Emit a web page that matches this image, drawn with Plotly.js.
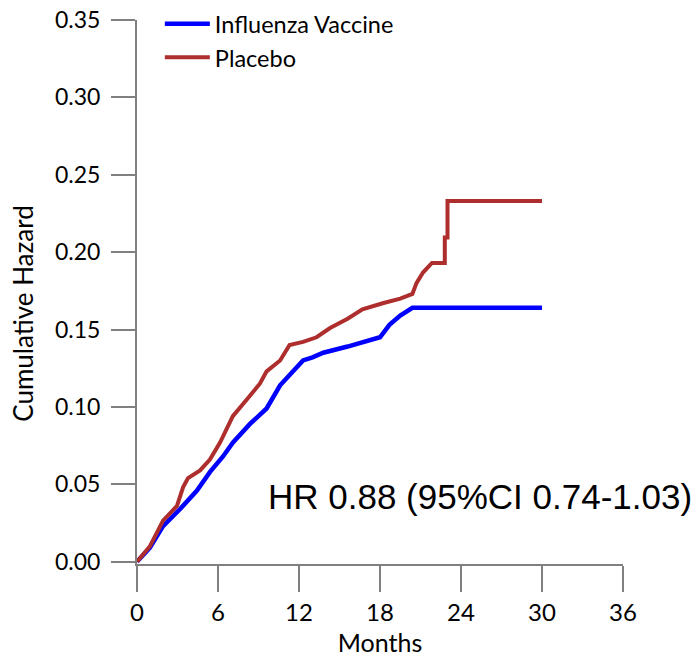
<!DOCTYPE html>
<html>
<head>
<meta charset="utf-8">
<script src="https://cdn.plot.ly/plotly-3.0.1.min.js"></script>
<style>html,body{margin:0;padding:0;background:#fff;}#chart{width:698px;height:660px;}</style>
</head>
<body>
<div id="chart"></div>
<script>
// Data
const monthsVaccine = [0, 0.96, 1.93, 3.19, 4.44, 5.41, 6.37, 7.11, 8.37, 9.6, 10.6, 11.56, 12.3, 13.0, 13.8, 15.6, 16.7, 18.0, 18.7, 19.5, 20.4, 30];
const hazardVaccine = [0, 0.009, 0.023, 0.034, 0.046, 0.058, 0.068, 0.077, 0.089, 0.099, 0.114, 0.123, 0.130, 0.132, 0.135, 0.139, 0.142, 0.145, 0.153, 0.159, 0.164, 0.164];

const monthsPlacebo = [0, 0.96, 1.93, 2.96, 3.41, 3.78, 4.67, 5.4, 6.15, 7.1, 8.15, 9.1, 9.6, 10.6, 11.3, 12.3, 13.3, 14.3, 15.6, 16.7, 18.2, 19.5, 20.4, 20.7, 21.2, 21.85, 22.8, 22.8, 23.0, 23.0, 30];
const hazardPlacebo = [0, 0.010, 0.0265, 0.036, 0.048, 0.054, 0.059, 0.066, 0.077, 0.094, 0.105, 0.115, 0.123, 0.130, 0.140, 0.142, 0.145, 0.151, 0.157, 0.163, 0.167, 0.170, 0.173, 0.180, 0.187, 0.193, 0.193, 0.2095, 0.2095, 0.233, 0.233];

const seriesNames = ["Influenza Vaccine", "Placebo"];
const xTicks = [0, 6, 12, 18, 24, 30, 36];
const yTicks = [0, 0.05, 0.10, 0.15, 0.20, 0.25, 0.30, 0.35];
const xTitle = "Months";
const yTitle = "Cumulative Hazard";
const hrText = "HR 0.88 (95%CI 0.74-1.03)";

const font = "Lato, 'Noto Sans', sans-serif";
const axisGray = "#808080";

const traces = [
  {x: monthsVaccine, y: hazardVaccine, name: seriesNames[0], mode: "lines", legendgroup: "a",
   line: {color: "#0000FF", width: 4.5}},
  {x: monthsPlacebo, y: hazardPlacebo, name: seriesNames[1], mode: "lines", legendgroup: "b",
   line: {color: "#AE2E2E", width: 4}}
];

const layout = {
  width: 698, height: 660,
  margin: {l: 137, r: 75, t: 20, b: 96, autoexpand: false},
  paper_bgcolor: "#fff", plot_bgcolor: "#fff",
  font: {family: font, size: 22, color: "#000"},
  showlegend: true,
  legend: {x: 0.047, xanchor: "left", y: 1.033, yanchor: "top", bgcolor: "rgba(0,0,0,0)",
           font: {family: font, size: 23.5, color: "#000"}, traceorder: "grouped",
           tracegroupgap: 0, itemwidth: 45},
  xaxis: {range: [0, 36], tickvals: xTicks, ticktext: xTicks.map(String),
          showgrid: false, zeroline: false, showline: true, linecolor: axisGray, linewidth: 2,
          ticks: "outside", ticklen: 26, tickwidth: 2, tickcolor: axisGray,
          tickfont: {family: font, size: 24, color: "#000"},
          title: {text: xTitle, font: {family: font, size: 25, color: "#000"}, standoff: 10}},
  yaxis: {range: [-0.0015, 0.35], tickvals: yTicks, tickformat: ".2f",
          showgrid: false, zeroline: false, showline: true, linecolor: axisGray, linewidth: 2,
          ticks: "outside", ticklen: 24, tickwidth: 2, tickcolor: axisGray,
          ticklabelstandoff: 6,
          tickfont: {family: font, size: 23, color: "#000"}},
  annotations: [
    {text: hrText, xref: "paper", yref: "y", x: 1.146, xanchor: "right", y: 0.0418, yanchor: "middle",
     showarrow: false, font: {family: "'Liberation Sans', Arial, sans-serif", size: 35, color: "#000"}},
    {text: yTitle, xref: "paper", yref: "paper", x: -0.2346, xanchor: "center", y: 0.46, yanchor: "middle",
     textangle: -90, showarrow: false, font: {family: font, size: 26, color: "#000"}}
  ]
};

Plotly.newPlot("chart", traces, layout, {displayModeBar: false, staticPlot: true});
</script>
</body>
</html>
